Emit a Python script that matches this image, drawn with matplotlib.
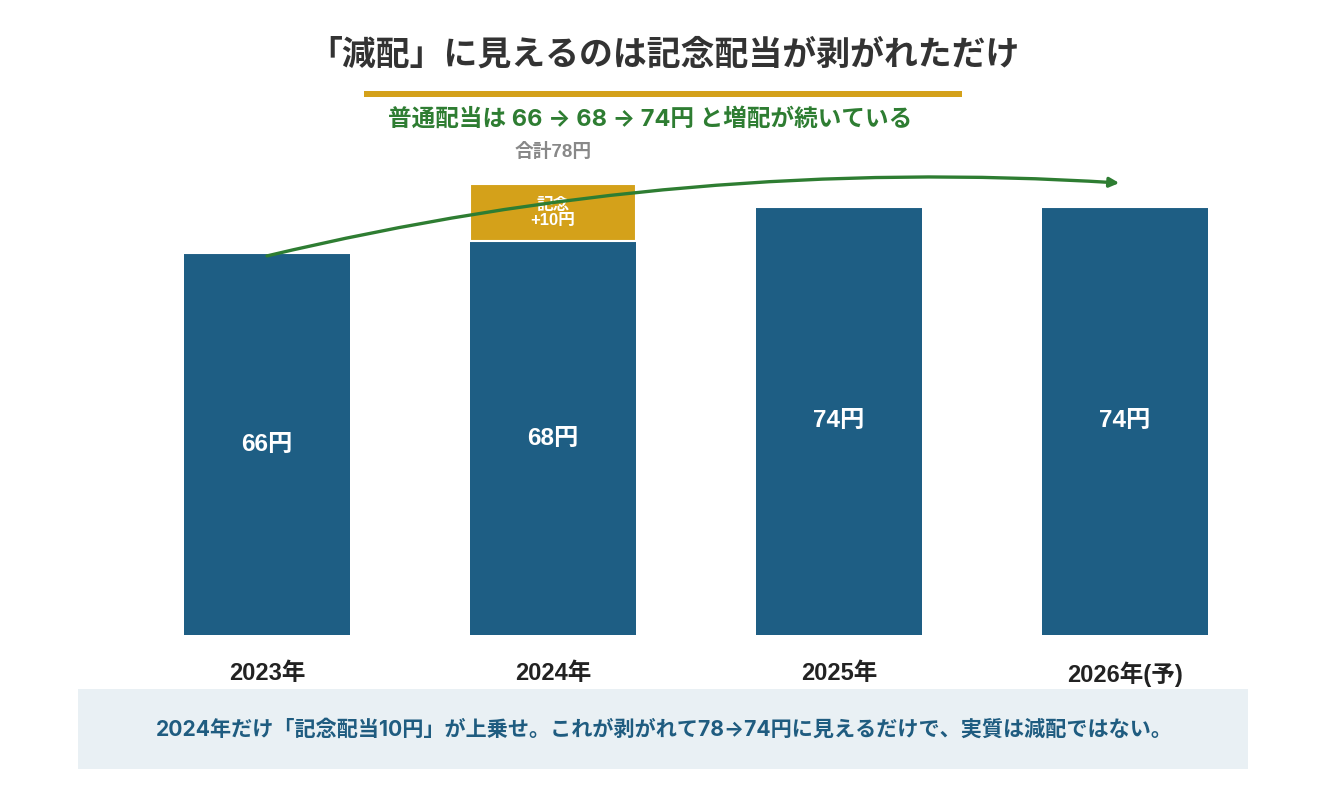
import matplotlib.pyplot as plt
from matplotlib.patches import Rectangle

plt.rcParams['font.family'] = ['Liberation Sans', 'Noto Sans CJK JP', 'DejaVu Sans']
ARROW_FONT = ['Inter', 'Noto Sans CJK JP', 'DejaVu Sans']

# data
years = ['2023年', '2024年', '2025年', '2026年(予)']
regular = [66, 68, 74, 74]
special = [0, 10, 0, 0]

BLUE = '#1e5e84'
GOLD = '#d4a11a'
GREEN = '#2e7d32'

fig = plt.figure(figsize=(13.26, 7.93), dpi=100)
W, H = 1326, 793

# axes placed so that bars land where they do in the picture
ax = fig.add_axes([124 / W, (H - 635) / H, 1144 / W, 463 / H])
x = list(range(len(years)))
ax.bar(x, regular, width=0.58, color=BLUE, linewidth=0)
ax.bar(x, special, width=0.58, bottom=regular, color=GOLD,
       edgecolor='white', linewidth=1.5)
ax.set_xlim(-0.5, 3.5)
ax.set_ylim(0, 80)
ax.axis('off')

# value labels inside the bars
for i, v in enumerate(regular):
    ax.text(i, v / 2, f'{v}円', ha='center', va='center', color='white',
            fontsize=17.5, fontweight='bold')
    ax.text(i, -6.7, years[i], ha='center', va='center', color='#222222',
            fontsize=17, fontweight='bold')

for i, s in enumerate(special):
    if s:
        ax.text(i, regular[i] + s / 2, f'記念\n+{s}円', ha='center', va='center',
                color='white', fontsize=12, fontweight='bold', linespacing=1.0)
        ax.text(i, regular[i] + s + 5.5, f'合計{regular[i] + s}円', ha='center',
                va='center', color='#888888', fontsize=13.5, fontweight='bold')

# trend arrow
ax.annotate('', xy=(2.98, 78.1), xytext=(0.0, 65.5),
            arrowprops=dict(arrowstyle='-|>', color=GREEN, lw=2.4,
                            mutation_scale=14,
                            connectionstyle='arc3,rad=-0.075',
                            shrinkA=0, shrinkB=0),
            annotation_clip=False)

# title, rule and subtitle
fig.text(664 / W, 1 - 55 / H, '「減配」に見えるのは記念配当が剥がれただけ',
         ha='center', va='center', fontsize=24.4, fontweight='bold', color='#333333')
fig.add_artist(Rectangle((364 / W, 1 - 97 / H), 598 / W, 6 / H,
                         transform=fig.transFigure, color=GOLD, lw=0))
fig.text(650 / W, 1 - 119 / H, '普通配当は 66 → 68 → 74円 と増配が続いている',
         ha='center', va='center', fontsize=17, fontweight='bold', color=GREEN,
         family=ARROW_FONT)

# note box
fig.add_artist(Rectangle((78 / W, 1 - 769 / H), 1170 / W, 80 / H,
                         transform=fig.transFigure, color='#e9f0f4', lw=0))
fig.text(664 / W, 1 - 729 / H,
         '2024年だけ「記念配当10円」が上乗せ。これが剥がれて78→74円に見えるだけで、実質は減配ではない。',
         ha='center', va='center', fontsize=15.2, fontweight='bold', color='#1f5c80',
         family=ARROW_FONT)

fig.savefig('out.png', dpi=100, facecolor='white')
